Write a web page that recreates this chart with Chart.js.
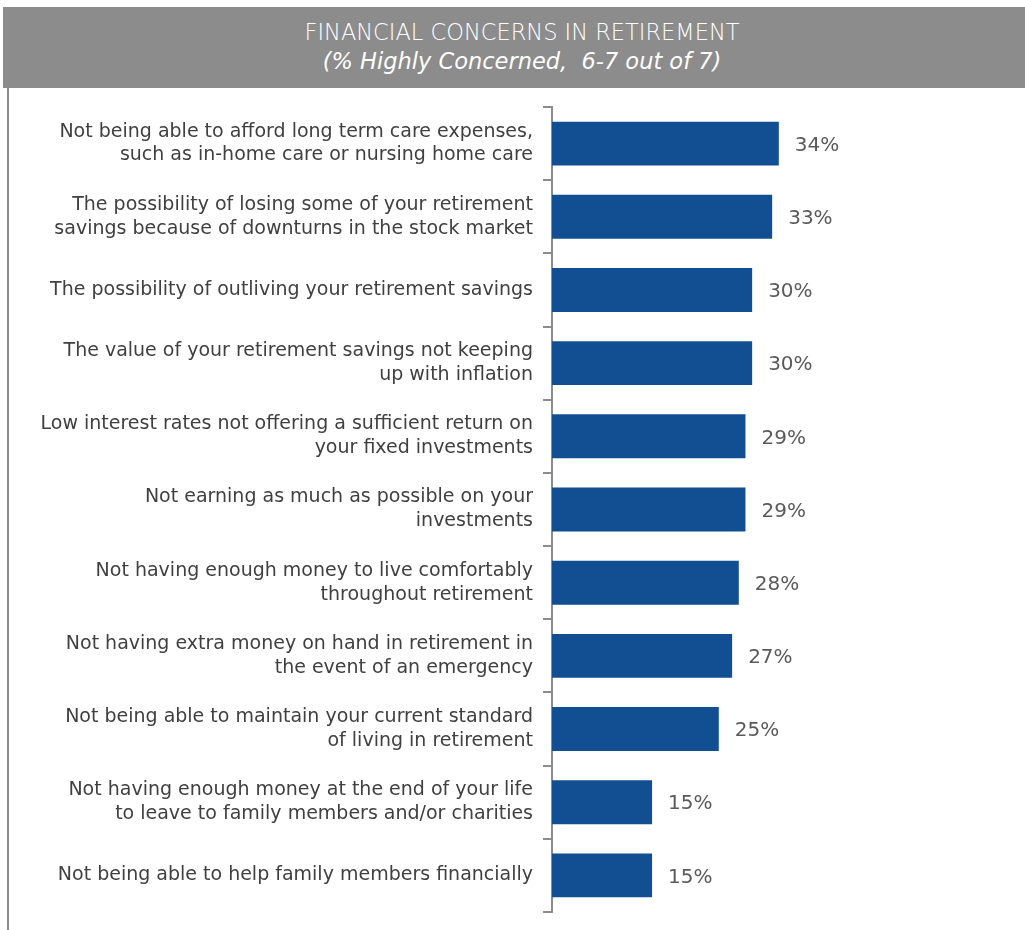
<!DOCTYPE html>
<html lang="en">
<head>
    <meta charset="UTF-8">
    <title>Financial Concerns in Retirement</title>
    <script src="https://cdn.jsdelivr.net/npm/chart.js"></script>
    <style>
        body {
            margin: 0;
            padding: 0;
            width: 1025px;
            height: 930px;
            position: relative;
            background: #ffffff;
            font-family: "DejaVu Sans", sans-serif;
            overflow: hidden;
        }
        #header {
            position: absolute;
            left: 3px;
            top: 7px;
            width: 1022px;
            height: 81px;
            background: #8c8c8c;
            color: #ffffff;
            text-align: center;
            font-weight: 200;
        }
        #header .t1 {
            position: absolute;
            left: 16px; right: 0;
            top: 12px;
            font-size: 22.5px;
        }
        #header .t2 {
            position: absolute;
            left: 16px; right: 0;
            top: 41px;
            font-size: 22.5px;
            font-style: italic;
        }
        #leftLine {
            position: absolute;
            left: 7px;
            top: 88px;
            width: 2px;
            height: 842px;
            background: #8c8c8c;
        }
        #concernsChart {
            position: absolute;
            left: 9px;
            top: 88px;
        }
    </style>
</head>
<body>
    <div id="header">
        <div class="t1">FINANCIAL CONCERNS IN RETIREMENT</div>
        <div class="t2">(% Highly Concerned,&nbsp; 6-7 out of 7)</div>
    </div>
    <div id="leftLine"></div>
    <canvas id="concernsChart" width="1016" height="842"></canvas>

    <script>
        const concerns = [
            ['Not being able to afford long term care expenses,', 'such as in-home care or nursing home care'],
            ['The possibility of losing some of your retirement', 'savings because of downturns in the stock market'],
            'The possibility of outliving your retirement savings',
            ['The value of your retirement savings not keeping', 'up with inflation'],
            ['Low interest rates not offering a sufficient return on', 'your fixed investments'],
            ['Not earning as much as possible on your', 'investments'],
            ['Not having enough money to live comfortably', 'throughout retirement'],
            ['Not having extra money on hand in retirement in', 'the event of an emergency'],
            ['Not being able to maintain your current standard', 'of living in retirement'],
            ['Not having enough money at the end of your life', 'to leave to family members and/or charities'],
            'Not being able to help family members financially'
        ];
        const highlyConcerned = [34, 33, 30, 30, 29, 29, 28, 27, 25, 15, 15];

        // value labels to the right of each bar
        const valueLabels = {
            id: 'valueLabels',
            afterDatasetsDraw(chart) {
                const ctx = chart.ctx;
                const meta = chart.getDatasetMeta(0);
                ctx.save();
                ctx.font = '20px "DejaVu Sans", sans-serif';
                ctx.fillStyle = '#5a5a5a';
                ctx.textAlign = 'left';
                ctx.textBaseline = 'middle';
                meta.data.forEach((bar, i) => {
                    ctx.fillText(highlyConcerned[i] + '%', bar.x + 16, bar.y + 2);
                });
                ctx.restore();
            }
        };

        const ctx = document.getElementById('concernsChart').getContext('2d');
        new Chart(ctx, {
            type: 'bar',
            data: {
                labels: concerns,
                datasets: [{
                    data: highlyConcerned,
                    backgroundColor: '#114f92',
                    borderWidth: 0,
                    barPercentage: 0.6,
                    categoryPercentage: 1.0
                }]
            },
            options: {
                indexAxis: 'y',
                responsive: false,
                animation: false,
                devicePixelRatio: 1,
                layout: {
                    padding: { top: 19, bottom: 18, right: 6, left: 0 }
                },
                plugins: {
                    legend: { display: false },
                    tooltip: { enabled: false }
                },
                scales: {
                    x: {
                        display: false,
                        min: 0,
                        max: 70
                    },
                    y: {
                        afterFit(scale) {
                            scale.width = 543;
                            scale.paddingTop = 0;
                            scale.paddingBottom = 0;
                        },
                        border: { color: '#8c8c8c', width: 2 },
                        grid: {
                            drawOnChartArea: false,
                            drawTicks: true,
                            tickLength: 9,
                            color: '#8c8c8c',
                            lineWidth: 2
                        },
                        ticks: {
                            padding: 10,
                            color: '#404040',
                            font: { family: '"DejaVu Sans", sans-serif', size: 19, lineHeight: 1.26 }
                        }
                    }
                }
            },
            plugins: [valueLabels]
        });
    </script>
</body>
</html>
